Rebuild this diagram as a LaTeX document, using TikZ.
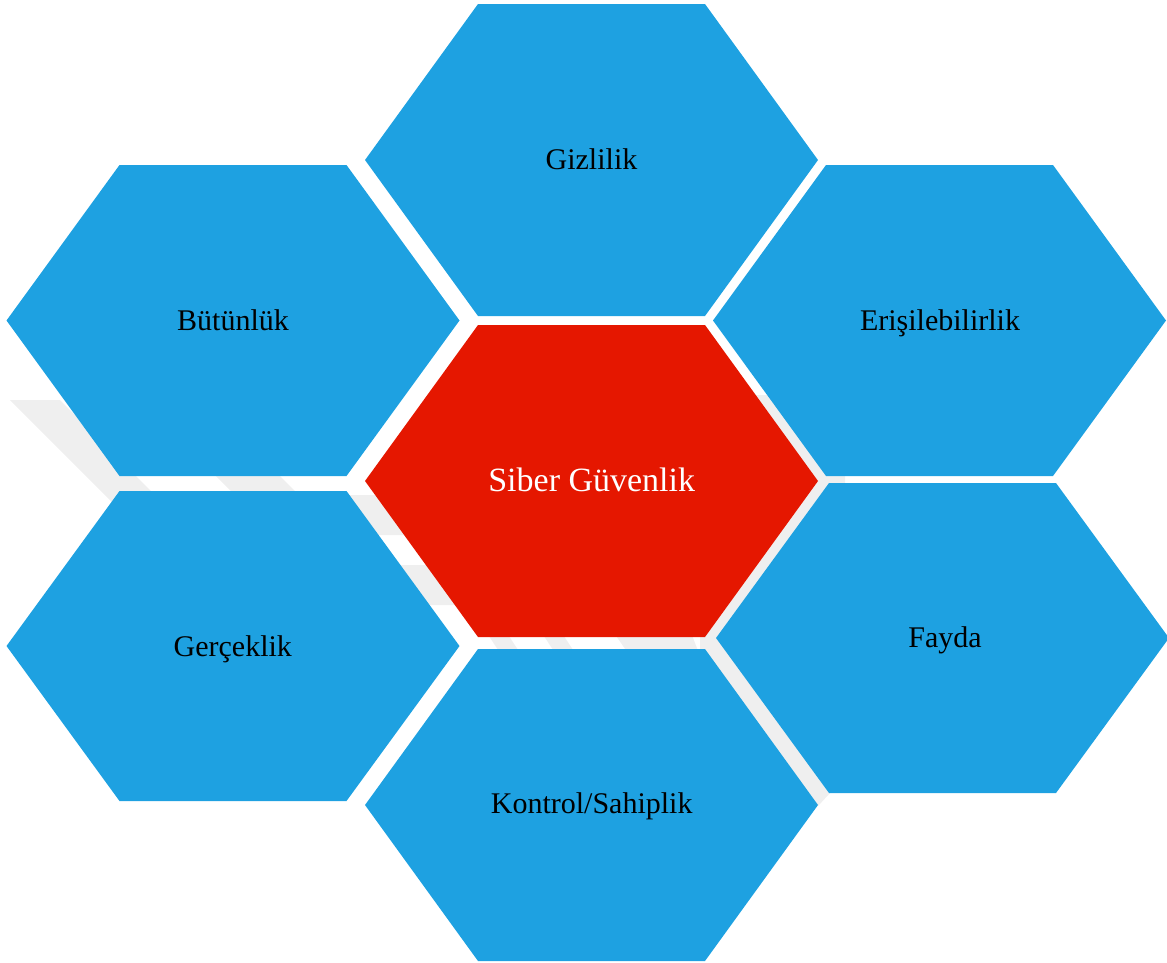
\documentclass[tikz,border=0pt]{standalone}
\usepackage{fontspec}
\setmainfont{Liberation Serif}
\definecolor{hexblue}{RGB}{30,161,225}
\definecolor{hexred}{RGB}{229,23,0}
\definecolor{wmgray}{RGB}{239,239,239}
\newcommand{\hexfill}[4]{%
  \fill[#4] ({#1-226.5},#2) -- ({#1-113.5},{#2-#3}) -- ({#1+113.5},{#2-#3})
    -- ({#1+226.5},#2) -- ({#1+113.5},{#2+#3}) -- ({#1-113.5},{#2+#3}) -- cycle;}
\begin{document}
\begin{tikzpicture}[x=1pt,y=-1pt,
  lbl/.style={anchor=base,inner sep=0pt,font=\fontsize{30}{36}\selectfont,text=black},
  mainlbl/.style={anchor=base,inner sep=0pt,font=\fontsize{34}{40}\selectfont,text=white},
  wm/.style={fill=wmgray}]
\useasboundingbox (0,0) rectangle (1167,962);
% faint watermark behind the hexagons
\fill[wm] (10,400) -- (60,400) -- (170,510) -- (120,510) -- cycle;
\fill[wm] (210,470) -- (274,470) -- (300,496) -- (236,496) -- cycle;
\fill[wm] (345,495) -- (380,495) -- (410,535) -- (375,535) -- cycle;
\fill[wm] (396,565) -- (432,565) -- (461,605) -- (425,605) -- cycle;
\fill[wm] (485,630) -- (505,630) -- (522,656) -- (502,656) -- cycle;
\fill[wm] (540,630) -- (560,630) -- (577,656) -- (557,656) -- cycle;
\fill[wm] (612,630) -- (690,630) -- (700,656) -- (630,656) -- cycle;
\fill[wm] (755,395) -- (845,395) -- (845,792) -- (831,792) -- (818,806) -- (700,650) -- (700,636) -- cycle;
% hexagons
\hexfill{591.5}{481}{156}{hexred}
\hexfill{591.5}{160}{156}{hexblue}
\hexfill{233}{320.5}{155.5}{hexblue}
\hexfill{939.5}{320.5}{155.5}{hexblue}
\hexfill{233}{646}{155}{hexblue}
\hexfill{942.5}{638}{155}{hexblue}
\hexfill{591.5}{805}{156}{hexblue}
% labels
\node[mainlbl] (siber) at (591.7,491.7) {Siber Güvenlik};
\node[lbl] (gizlilik) at (591.5,169) {Gizlilik};
\node[lbl] (butunluk) at (233,330) {Bütünlük};
\node[lbl] (erisilebilirlik) at (940,330) {Erişilebilirlik};
\node[lbl] (gerceklik) at (232.8,656) {Gerçeklik};
\node[lbl] (fayda) at (945,647) {Fayda};
\node[lbl] (kontrol) at (591.7,813) {Kontrol/Sahiplik};
\end{tikzpicture}
\end{document}
